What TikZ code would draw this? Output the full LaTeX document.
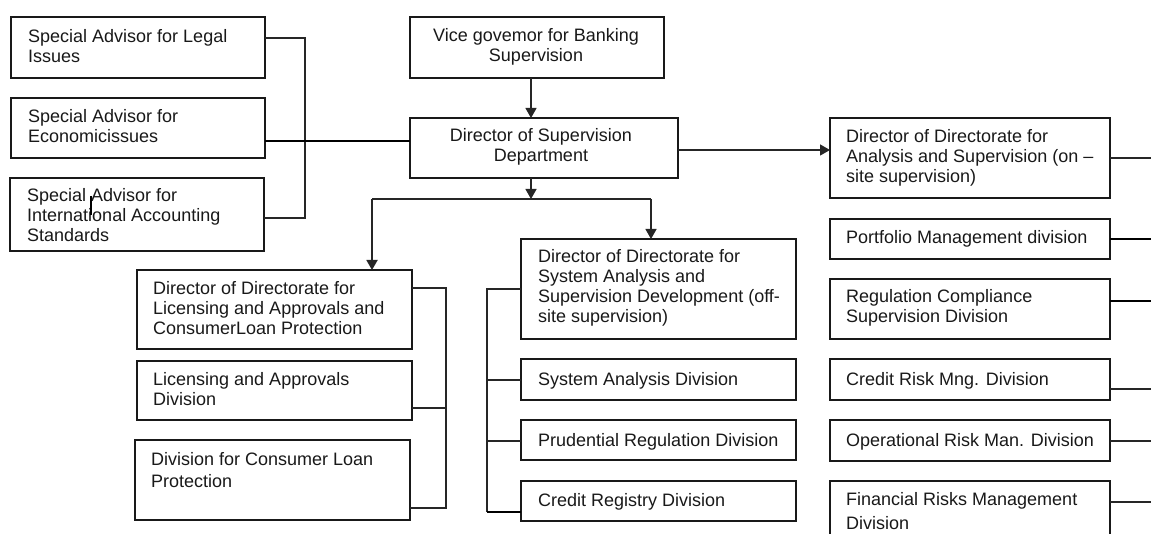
\documentclass[tikz,border=0pt]{standalone}
\usepackage{fontspec}
\setmainfont{Liberation Sans}
\usetikzlibrary{arrows.meta,calc}
\begin{document}
\begin{tikzpicture}[x=1pt,y=-1pt,
  box/.style={draw=black!90, line width=1.5pt, anchor=north west, inner sep=0pt, outer sep=0pt},
  txt/.style={anchor=base west, align=left, inner sep=0pt, text=black!90, font=\fontsize{18}{20}\selectfont},
  ctxt/.style={anchor=base, align=center, inner sep=0pt, text=black!90, font=\fontsize{18}{20}\selectfont},
  conn/.style={draw=black!85, line width=1.3pt},
  hconn/.style={draw=black, line width=2pt},
  arr/.style={conn, -{Triangle[width=11pt,length=10pt]}}]
\useasboundingbox (0,0) rectangle (1151,534);
\fill[white] (0,0) rectangle (1151,534);
% boxes
\node[box, minimum width=254pt, minimum height=61pt] (legal) at (11,17) {};
\node[box, minimum width=254pt, minimum height=60pt] (econ) at (11,98) {};
\node[box, minimum width=254pt, minimum height=73pt] (intl) at (10,178) {};
\node[box, minimum width=254pt, minimum height=61pt] (vice) at (410,17) {};
\node[box, minimum width=268pt, minimum height=60pt] (dir) at (410,118) {};
\node[box, minimum width=280pt, minimum height=80pt] (ana) at (830,118) {};
\node[box, minimum width=280pt, minimum height=40pt] (port) at (830,219) {};
\node[box, minimum width=280pt, minimum height=60pt] (regc) at (830,279) {};
\node[box, minimum width=280pt, minimum height=41pt] (crm) at (830,359) {};
\node[box, minimum width=280pt, minimum height=41pt] (orm) at (830,420) {};
\node[box, minimum width=280pt, minimum height=64pt] (frm) at (830,481) {};
\node[box, minimum width=275pt, minimum height=79pt] (licd) at (137,270) {};
\node[box, minimum width=275pt, minimum height=59pt] (licv) at (137,361) {};
\node[box, minimum width=275pt, minimum height=80pt] (cons) at (135,440) {};
\node[box, minimum width=275pt, minimum height=100pt] (sysd) at (521,239) {};
\node[box, minimum width=275pt, minimum height=41pt] (sysa) at (521,359) {};
\node[box, minimum width=275pt, minimum height=40pt] (prud) at (521,420) {};
\node[box, minimum width=275pt, minimum height=40pt] (cred) at (521,481) {};
% texts (anchored at the baseline of the last line)
\node[txt] (legal-t) at (28,63) {Special Advisor for Legal\\Issues};
\node[txt] (econ-t) at (28,143) {Special Advisor for\\Economicissues};
\node[txt] (intl-t) at (27,242) {Special Advisor for\\International Accounting\\Standards};
\node[ctxt] (vice-t) at (536,62) {Vice govemor for Banking\\Supervision};
\node[ctxt] (dir-t) at (541,162) {Director of Supervision\\Department};
\node[txt] (ana-t) at (846,183) {Director of Directorate for\\Analysis and Supervision (on –\\site supervision)};
\node[txt] (port-t) at (846,244) {Portfolio Management division};
\node[txt] (regc-t) at (846,323) {Regulation Compliance\\Supervision Division};
\node[txt] (crm-t) at (846,385) {Credit Risk Mng. Division};
\node[txt] (orm-t) at (846,446) {Operational Risk Man. Division};
\node[txt] (frm-t) at (846,529) {Financial Risks Management\\[4pt]Division};
\node[txt] (licd-t) at (153,335) {Director of Directorate for\\Licensing and Approvals and\\ConsumerLoan Protection};
\node[txt] (licv-t) at (153,405) {Licensing and Approvals\\Division};
\node[txt] (cons-t) at (151,487) {Division for Consumer Loan\\[2pt]Protection};
\node[txt] (sysd-t) at (538,323) {Director of Directorate for\\System Analysis and\\Supervision Development (off-\\site supervision)};
\node[txt] (sysa-t) at (538,385) {System Analysis Division};
\node[txt] (prud-t) at (538,446) {Prudential Regulation Division};
\node[txt] (cred-t) at (538,506) {Credit Registry Division};
% bend coordinates
\coordinate (advbus) at (305,0);
\coordinate (trunk) at (531,0);
\coordinate (bus) at (0,199);
\coordinate (lbr) at (372,0);
\coordinate (rbr) at (651,0);
\coordinate (licbus) at (446,0);
\coordinate (sysbus) at (487,0);
\coordinate (edge) at (1151,0);
% advisors
\draw[conn] (legal.east |- 0,38) -| (advbus |- 0,218) -- (intl.east |- 0,218);
\draw[hconn] (econ.east |- 0,141) -- (dir.west |- 0,141);
% vertical chain
\draw[arr] (vice.south -| trunk) -- (dir.north -| trunk);
\draw[arr] (dir.east |- 0,150) -- (ana.west |- 0,150);
\draw[arr] (dir.south -| trunk) -- (trunk |- bus);
\draw[conn] (lbr |- bus) -- (rbr |- bus);
\draw[arr, line width=1.8pt] (lbr |- bus) -- (licd.north -| lbr);
\draw[arr] (rbr |- bus) -- (sysd.north -| rbr);
% licensing bracket
\draw[conn] (licd.east |- 0,288) -| (licbus |- 0,508) -- (cons.east |- 0,508);
\draw[conn] (licv.east |- 0,408) -- (licbus |- 0,408);
% system bracket
\draw[conn] (sysd.west |- 0,289) -| (sysbus |- 0,512);
\draw[hconn] (sysbus |- 0,512) -- (cred.west |- 0,512);
\draw[conn] (sysa.west |- 0,380) -- (sysbus |- 0,380);
\draw[conn] (prud.west |- 0,441) -- (sysbus |- 0,441);
% right column stubs
\draw[conn] (ana.east |- 0,158) -- (edge |- 0,158);
\draw[hconn] (port.east |- 0,239) -- (edge |- 0,239);
\draw[hconn] (regc.east |- 0,301) -- (edge |- 0,301);
\draw[conn] (crm.east |- 0,389) -- (edge |- 0,389);
\draw[conn] (orm.east |- 0,441) -- (edge |- 0,441);
\draw[conn] (frm.east |- 0,502) -- (edge |- 0,502);
% stray stroke in the international box
\draw[line width=2pt] (91,196) -- (91,215);
\end{tikzpicture}
\end{document}
